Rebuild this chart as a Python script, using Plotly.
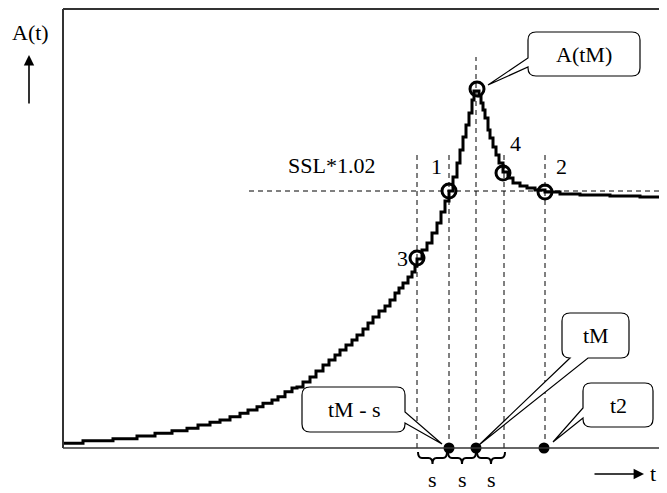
import plotly.graph_objects as go

# ---- data (arbitrary units: t along time axis, A amplitude) ----
curve_t = [0, 20, 50, 74, 92, 109, 124, 135, 147, 157, 167, 177, 185, 194, 200, 209, 215, 222, 229,
           234, 240, 247, 253, 260, 266, 272, 277, 283, 289, 294, 300, 305, 310, 316, 322, 327, 332,
           336, 340, 345, 349, 352, 354, 359, 364, 369, 374, 378, 382, 386, 390, 394, 397, 400, 403,
           406, 409, 411, 416, 418, 420, 422, 425, 427, 430, 433, 436, 440, 445, 450, 457, 464, 472,
           482, 497, 517, 547, 577, 604]
curve_A = [4.7, 7.3, 9.3, 12, 14.7, 17.3, 19.7, 23, 25.7, 28, 31.3, 34.7, 38, 41.3, 44.7, 48, 51.3, 56.3, 60,
           61, 66, 71, 77, 83, 88, 93, 98, 103, 108, 113, 119, 125, 131, 137, 142, 148, 155,
           160, 165, 171, 176, 182, 189, 198, 205, 215, 225, 236, 247, 257, 271, 285, 298, 311, 323,
           335, 348, 357, 352, 345, 338, 330, 318, 310, 301, 293, 285, 276, 270, 265, 262, 260, 258,
           256, 254, 253, 252, 251, 250]

# marked points 3, 1, A(tM), 4, 2
mark_t = [354, 386, 414, 440, 482]
mark_A = [190, 257, 359, 275, 256]

# dashed verticals: t positions and heights
vline_t = [354, 386, 413, 441, 482]
vline_top = [293, 293, 391, 293, 293]
ssl_level = 257          # SSL*1.02

# time points on the axis: tM - s, tM, t2
axis_pts_t = [386, 413, 481]
brace_ranges = [(355, 384), (385, 413), (414, 442)]

fig = go.Figure()

fig.add_trace(go.Scatter(x=curve_t, y=curve_A, mode="lines", line_shape="hv",
                         line=dict(color="black", width=3), hoverinfo="skip"))
fig.add_trace(go.Scatter(x=mark_t, y=mark_A, mode="markers",
                         marker=dict(symbol="circle-open", size=14, color="black",
                                     line=dict(width=3, color="black")), hoverinfo="skip"))
fig.add_trace(go.Scatter(x=axis_pts_t, y=[0] * len(axis_pts_t), mode="markers",
                         marker=dict(symbol="circle", size=11, color="black"),
                         cliponaxis=False, hoverinfo="skip"))

shapes = []
# frame
frame = dict(color="#333333", width=2)
shapes.append(dict(type="line", x0=0, x1=0, y0=0, y1=439, xref="x", yref="y", line=frame))
shapes.append(dict(type="line", x0=0, x1=604, y0=439, y1=439, xref="x", yref="y", line=frame))
shapes.append(dict(type="line", x0=0, x1=604, y0=0, y1=0, xref="x", yref="y",
                   line=dict(color="#333333", width=1.6)))
# dashed guides
dash = dict(color="black", width=1, dash="5px,4px")
for t, top in zip(vline_t, vline_top):
    shapes.append(dict(type="line", x0=t, x1=t, y0=0, y1=top, xref="x", yref="y",
                       line=dash, layer="below"))
shapes.append(dict(type="line", x0=186, x1=604, y0=ssl_level, y1=ssl_level,
                   xref="x", yref="y", line=dash, layer="below"))

# braces under the axis
for a, b in brace_ranges:
    m = (a + b) / 2
    p = (f"M {a},-4 Q {a},-10 {a+4},-10 L {m-4},-10 Q {m},-10 {m},-16 "
         f"Q {m},-10 {m+4},-10 L {b-4},-10 Q {b},-10 {b},-4")
    shapes.append(dict(type="path", path=p, xref="x", yref="y",
                       line=dict(color="black", width=2)))


def callout(x0, x1, y0, y1, side, g0, g1, tip, r=8):
    tx, ty = tip
    p = f"M {x0+r},{y1} L {x1-r},{y1} Q {x1},{y1} {x1},{y1-r}"
    if side == "right":
        p += f" L {x1},{g1} L {tx},{ty} L {x1},{g0}"
    p += f" L {x1},{y0+r} Q {x1},{y0} {x1-r},{y0}"
    if side == "bottom":
        p += f" L {g1},{y0} L {tx},{ty} L {g0},{y0}"
    p += f" L {x0+r},{y0} Q {x0},{y0} {x0},{y0+r}"
    if side == "left":
        p += f" L {x0},{g0} L {tx},{ty} L {x0},{g1}"
    p += f" L {x0},{y1-r} Q {x0},{y1} {x0+r},{y1} Z"
    return dict(type="path", path=p, xref="x", yref="y", fillcolor="white",
                line=dict(color="black", width=1.2), layer="above")


shapes.append(callout(465, 577, 372, 416, "left", 381, 390, (425, 363)))
shapes.append(callout(499, 566, 90, 135, "bottom", 507, 525, (416, 3)))
shapes.append(callout(239, 342, 16, 61, "right", 25, 36, (379, 4)))
shapes.append(callout(520, 590, 21, 65, "left", 30, 40, (490, 6)))

font = dict(family="Liberation Serif, Times New Roman, serif", size=22, color="black")
ann = []


def txt(x, y, s, **kw):
    base = dict(x=x, y=y, text=s, showarrow=False, xref="x", yref="y",
                font=font, xanchor="center", yanchor="middle", borderpad=0)
    base.update(kw)
    ann.append(base)


txt(-33, 416, "A(t)")
txt(268, 283, "SSL*1.02")
txt(373, 282, "1")
txt(452, 305, "4")
txt(498, 282, "2")
txt(339, 190, "3")
for (a, b) in brace_ranges:
    txt((a + b) / 2, -31, "s")
# axis label "t" kept inside the visible part of the page
txt(594, -25, "t", xanchor="right")
txt(521, 394, "A(tM)")
txt(533, 113, "tM")
txt(291, 39, "tM - s")
txt(555, 43, "t2")

# arrows
ann.append(dict(x=-34, y=393, ax=-34, ay=343, xref="x", yref="y", axref="x", ayref="y",
                text="", showarrow=True, arrowhead=2, arrowsize=1.3, arrowwidth=1.6,
                arrowcolor="black"))
ann.append(dict(x=581, y=-26, ax=530, ay=-26, xref="x", yref="y", axref="x", ayref="y",
                text="", showarrow=True, arrowhead=2, arrowsize=1.3, arrowwidth=1.6,
                arrowcolor="black"))

# the page body adds an 8 px margin, so the figure covers page pixels 8..667 / 8..493
fig.update_layout(
    width=659, height=485, autosize=False,
    margin=dict(l=0, r=0, t=0, b=0, pad=0),
    paper_bgcolor="white", plot_bgcolor="white",
    showlegend=False,
    xaxis=dict(range=[-55, 604], visible=False, fixedrange=True),
    yaxis=dict(range=[-45, 440], visible=False, fixedrange=True),
    shapes=shapes, annotations=ann,
)

fig.write_html("out.html")
